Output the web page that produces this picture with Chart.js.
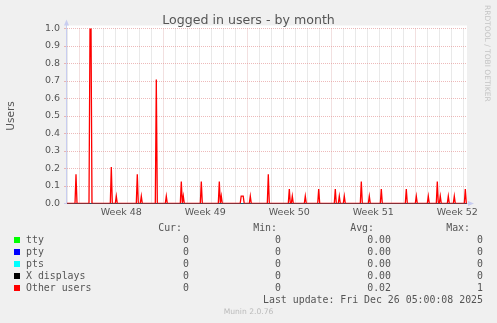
<!DOCTYPE html>
<html><head><meta charset="utf-8">
<script src="https://cdn.jsdelivr.net/npm/chart.js@4"></script>
<style>
html,body{margin:0;padding:0;background:#f0f0f0;}
#wrap{position:relative;width:497px;height:323px;overflow:hidden;background:#f0f0f0;font-family:"DejaVu Sans",sans-serif;color:#555;}
#c{position:absolute;left:0;top:0;}
.t{position:absolute;white-space:pre;line-height:12px;}
.mono{font-family:"DejaVu Sans Mono",monospace;font-size:9.9px;}
.sq{position:absolute;width:6px;height:6px;}
</style></head>
<body><div id="wrap"><canvas id="c" width="497" height="323"></canvas></div>
<script>
// Day 0 = Mon 24 Nov 2025 00:00 (start of week 48); one sample = 2 hours
const X_MIN = -1.025, X_MAX = 32.308;
const SAMPLE = 1 / 12;
const weekLabels = ['Week 48', 'Week 49', 'Week 50', 'Week 51', 'Week 52'];
const weekLabelDays = [3.5, 10.5, 17.5, 24.5, 31.5];
const yTickValues = [0, 0.1, 0.2, 0.3, 0.4, 0.5, 0.6, 0.7, 0.8, 0.9, 1.0];

// "Other users": non-zero samples (day, value); all other samples are 0
const otherDays = [-0.275, 0.892, 0.975, 2.667, 3.083, 4.833, 5.167, 6.417, 7.25, 8.5, 8.667,
  10.167, 11.667, 11.833, 13.49, 13.575, 13.66, 14.25, 15.75, 17.5, 17.75, 18.833, 19.95,
  21.333, 21.667, 22.083, 23.5, 24.167, 25.167, 27.25, 28.083, 29.083, 29.833, 30.083,
  30.75, 31.25, 32.167];
const otherValues = [0.167, 1.0, 1.0, 0.208, 0.042, 0.167, 0.042, 0.708, 0.042, 0.125, 0.042,
  0.125, 0.125, 0.042, 0.042, 0.042, 0.042, 0.042, 0.167, 0.083, 0.042, 0.042, 0.083,
  0.083, 0.042, 0.042, 0.125, 0.042, 0.083, 0.083, 0.042, 0.042, 0.125, 0.042,
  0.042, 0.042, 0.083];

const seriesNames = ['tty', 'pty', 'pts', 'X displays', 'Other users'];
const seriesColors = ['#00ff00', '#0000ff', '#00ffff', '#000000', '#ff0000'];
const seriesCur = ['0', '0', '0', '0', '0'];
const seriesMin = ['0', '0', '0', '0', '0'];
const seriesAvg = ['0.00', '0.00', '0.00', '0.00', '0.02'];
const seriesMax = ['0', '0', '0', '0', '1'];
const lastUpdate = 'Last update: Fri Dec 26 05:00:08 2025';

function buildOther() {
  const pts = [{x: X_MIN, y: 0}];
  for (let i = 0; i < otherDays.length; i++) {
    const d = otherDays[i];
    if (i === 0 || d - otherDays[i - 1] > 0.1) pts.push({x: d - SAMPLE, y: 0});
    pts.push({x: d, y: otherValues[i]});
    if (i === otherDays.length - 1 || otherDays[i + 1] - d > 0.1) pts.push({x: d + SAMPLE, y: 0});
  }
  pts.push({x: X_MAX, y: 0});
  return pts;
}

const datasets = seriesNames.map((name, i) => ({
  label: name,
  data: i === 4 ? buildOther() : [{x: X_MIN, y: 0}, {x: X_MAX, y: 0}],
  borderColor: seriesColors[i],
  borderWidth: i === 4 ? 1.3 : 1,
  pointRadius: 0,
  fill: false,
  tension: 0,
  order: i === 4 ? 0 : 5 - i
}));

const gridTicks = [];
for (let k = -2; k <= 65; k++) gridTicks.push(k / 2);

const frame = {
  id: 'frame',
  beforeDraw(chart) {
    const {ctx, chartArea: a} = chart;
    ctx.save();
    ctx.fillStyle = '#ffffff';
    ctx.fillRect(a.left, 25.5, a.right - a.left, a.bottom - 25.5);
    ctx.restore();
  },
  beforeDatasetsDraw(chart) {
    const {ctx, chartArea: a} = chart;
    ctx.save();
    ctx.strokeStyle = 'rgb(200,205,240)';
    ctx.fillStyle = 'rgb(200,205,240)';
    ctx.lineWidth = 1;
    ctx.beginPath();
    ctx.moveTo(66.5, a.bottom); ctx.lineTo(66.5, 24);
    ctx.moveTo(64, a.bottom); ctx.lineTo(470, a.bottom);
    ctx.stroke();
    ctx.beginPath();
    ctx.moveTo(66.5, 19.5); ctx.lineTo(64, 25.5); ctx.lineTo(69, 25.5); ctx.closePath(); ctx.fill();
    ctx.beginPath();
    ctx.moveTo(474, a.bottom); ctx.lineTo(468, a.bottom - 2.5); ctx.lineTo(468, a.bottom + 2.5); ctx.closePath(); ctx.fill();
    ctx.restore();
  }
};

new Chart(document.getElementById('c'), {
  type: 'line',
  data: {datasets},
  options: {
    responsive: false,
    animation: false,
    devicePixelRatio: 1,
    layout: {padding: {left: 0, top: 28.5, right: 30, bottom: 0}},
    plugins: {legend: {display: false}, tooltip: {enabled: false}, title: {display: false}},
    scales: {
      x: {
        type: 'linear', min: X_MIN, max: X_MAX,
        afterFit: s => { s.height = 119.5; },
        afterBuildTicks: s => { s.ticks = gridTicks.filter(v => v >= X_MIN && v <= X_MAX).map(v => ({value: v})); },
        ticks: {
          autoSkip: false, maxRotation: 0, padding: 3.4, color: '#555',
          font: {family: 'DejaVu Sans', size: 9.5},
          callback: v => { const i = weekLabelDays.indexOf(v); return i >= 0 ? weekLabels[i] : ''; }
        },
        grid: {
          drawTicks: false, lineWidth: 1,
          color: c => {
            const v = c.tick ? c.tick.value : 0.5;
            if (!Number.isInteger(v)) return 'rgba(0,0,0,0)';
            return v % 7 === 0 ? 'rgba(215,160,160,0.65)' : 'rgba(185,185,185,0.6)';
          }
        },
        border: {display: false, dash: [1, 1]}
      },
      y: {
        min: 0, max: 1,
        afterFit: s => { s.width = 67; },
        afterBuildTicks: s => { s.ticks = yTickValues.map(v => ({value: v})); },
        ticks: {
          padding: 4, color: '#555', font: {family: 'DejaVu Sans', size: 9.5},
          callback: v => v.toFixed(1)
        },
        grid: {color: 'rgba(225,140,140,0.6)', lineWidth: 1, drawTicks: true, tickLength: 3, tickColor: 'rgba(225,140,140,0.6)'},
        border: {display: false, dash: [1, 1]},
        title: {display: true, text: 'Users', color: '#555', font: {family: 'DejaVu Sans', size: 10.5}, padding: {top: 4.5, bottom: 0}}
      }
    }
  },
  plugins: [frame]
});

// Text outside the plot
const wrap = document.getElementById('wrap');
function addText(txt, opts) {
  const d = document.createElement('div');
  d.className = 't' + (opts.mono ? ' mono' : '');
  d.textContent = txt;
  Object.assign(d.style, opts.style || {});
  wrap.appendChild(d);
  return d;
}
addText('Logged in users - by month', {style: {left: '0', width: '497px', textAlign: 'center', top: '11.5px', fontSize: '12.6px', lineHeight: '15px'}});
addText('RRDTOOL / TOBI OETIKER', {style: {left: '482px', top: '5px', writingMode: 'vertical-rl', fontSize: '7.5px', lineHeight: '10px', color: '#c4c4c4'}});

const headers = ['Cur:', 'Min:', 'Avg:', 'Max:'];
const headerRight = [182, 277, 374, 470];
const colRight = [189, 281, 391, 483];
headers.forEach((h, i) => addText(h, {mono: true, style: {right: (497 - headerRight[i]) + 'px', top: '221.7px'}}));
const cols = [seriesCur, seriesMin, seriesAvg, seriesMax];
seriesNames.forEach((name, r) => {
  const top = 233.5 + 12 * r;
  const sq = document.createElement('div');
  sq.className = 'sq';
  sq.style.left = '14px'; sq.style.top = (top + 3.5) + 'px'; sq.style.background = seriesColors[r];
  wrap.appendChild(sq);
  addText(name, {mono: true, style: {left: '26px', top: top + 'px'}});
  cols.forEach((col, c) => addText(col[r], {mono: true, style: {right: (497 - colRight[c]) + 'px', top: top + 'px'}}));
});
addText(lastUpdate, {mono: true, style: {right: (497 - 483) + 'px', top: '293.9px'}});
addText('Munin 2.0.76', {style: {left: '0', width: '497px', textAlign: 'center', top: '306px', fontSize: '7.6px', color: '#bbbbbb'}});
</script>
</body></html>
